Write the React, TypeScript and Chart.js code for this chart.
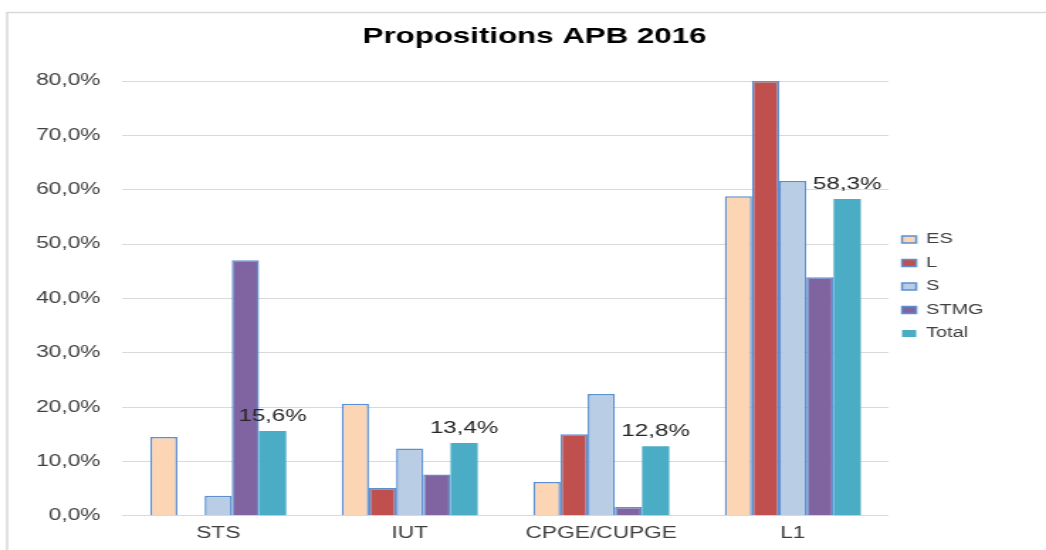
import { useEffect, useRef } from 'react';
import { Chart, registerables } from 'chart.js';

Chart.register(...registerables);

const W = 737;
const H = 550;
const SX = 1046 / W;

const categories = ['STS', 'IUT', 'CPGE/CUPGE', 'L1'];
const seriesNames = ['ES', 'L', 'S', 'STMG', 'Total'];
const esValues = [14.5, 20.6, 6.2, 58.8];
const lValues = [0, 5.1, 15.0, 80.0];
const sValues = [3.7, 12.4, 22.4, 61.6];
const stmgValues = [47.0, 7.6, 1.6, 43.9];
const totalValues = [15.6, 13.4, 12.8, 58.3];
const yMin = 0;
const yMax = 80;
const yStep = 10;

const fmt = (v: number) => v.toFixed(1).replace('.', ',') + '%';

const FONT = "'Liberation Sans', Arial, sans-serif";
const BORDER = '#5C8FD0';

export default function App() {
  const ref = useRef<HTMLCanvasElement>(null);

  useEffect(() => {
    const canvas = ref.current;
    if (!canvas) return;

    const framePlugin = {
      id: 'frame',
      beforeDraw(chart: any) {
        const { ctx } = chart;
        ctx.save();
        ctx.fillStyle = '#ffffff';
        ctx.fillRect(0, 0, W, H);
        ctx.strokeStyle = '#d9d9d9';
        ctx.lineWidth = 1.5;
        ctx.strokeRect(5, 12.5, W + 20, H + 20);
        ctx.restore();
      },
    };

    const titleShift = {
      id: 'titleShift',
      afterLayout(chart: any) {
        const tb = chart.titleBlock;
        if (tb) {
          const target = 534.5 / SX;
          const d = target - (tb.left + tb.right) / 2;
          tb.left += d;
          tb.right += d;
        }
      },
    };

    const valueLabels = {
      id: 'valueLabels',
      afterDatasetsDraw(chart: any) {
        const { ctx } = chart;
        const meta = chart.getDatasetMeta(4);
        ctx.save();
        ctx.font = `17px ${FONT}`;
        ctx.fillStyle = '#262626';
        ctx.textAlign = 'center';
        ctx.textBaseline = 'alphabetic';
        meta.data.forEach((el: any, i: number) => {
          ctx.fillText(fmt(totalValues[i]), el.x, el.y - 10);
        });
        ctx.restore();
      },
    };

    const mk = (label: string, data: number[], bg: string, bw: number) => ({
      label,
      data,
      backgroundColor: bg,
      borderColor: BORDER,
      borderWidth: bw,
    });

    const chart = new Chart(canvas, {
      type: 'bar',
      data: {
        labels: categories,
        datasets: [
          mk(seriesNames[0], esValues, '#FCD5B5', 1.5),
          mk(seriesNames[1], lValues, '#C0504D', 1.5),
          mk(seriesNames[2], sValues, '#B9CDE5', 1.5),
          mk(seriesNames[3], stmgValues, '#8064A2', 1.5),
          mk(seriesNames[4], totalValues, '#4BACC6', 0),
        ],
      },
      options: {
        responsive: false,
        devicePixelRatio: 1,
        animation: false,
        layout: { padding: { top: 22, left: 9.9, right: 34, bottom: -1 } },
        datasets: { bar: { categoryPercentage: 0.71, barPercentage: 1 } },
        scales: {
          x: {
            grid: { display: false, drawTicks: false },
            border: { display: false },
            ticks: { font: { size: 16, family: FONT }, color: '#404040', padding: 8 },
          },
          y: {
            min: yMin,
            max: yMax,
            grid: { color: '#d9d9d9', drawTicks: false, lineWidth: 1 },
            border: { display: false },
            ticks: {
              stepSize: yStep,
              padding: 15.5,
              font: { size: 16, family: FONT },
              color: '#404040',
              callback: (v: any) => fmt(Number(v)),
            },
          },
        },
        plugins: {
          title: {
            display: true,
            text: 'Propositions APB 2016',
            color: '#000000',
            font: { size: 22, weight: 'bold', family: FONT, lineHeight: 29.2 / 22 },
            padding: { top: 0, bottom: 81 - 22 - 29.2 },
          },
          legend: {
            position: 'right',
            labels: {
              boxWidth: 10,
              boxHeight: 7,
              padding: 9.5,
              color: '#404040',
              font: { size: 14, family: FONT },
            },
          },
          tooltip: { enabled: false },
        },
      },
      plugins: [framePlugin, titleShift, valueLabels],
    } as any);

    return () => chart.destroy();
  }, []);

  return (
    <div style={{ position: 'fixed', left: 0, top: 0, width: 1046, height: 550 }}>
      <canvas
        ref={ref}
        width={W}
        height={H}
        style={{ width: '1046px', height: '550px', display: 'block' }}
      />
    </div>
  );
}
